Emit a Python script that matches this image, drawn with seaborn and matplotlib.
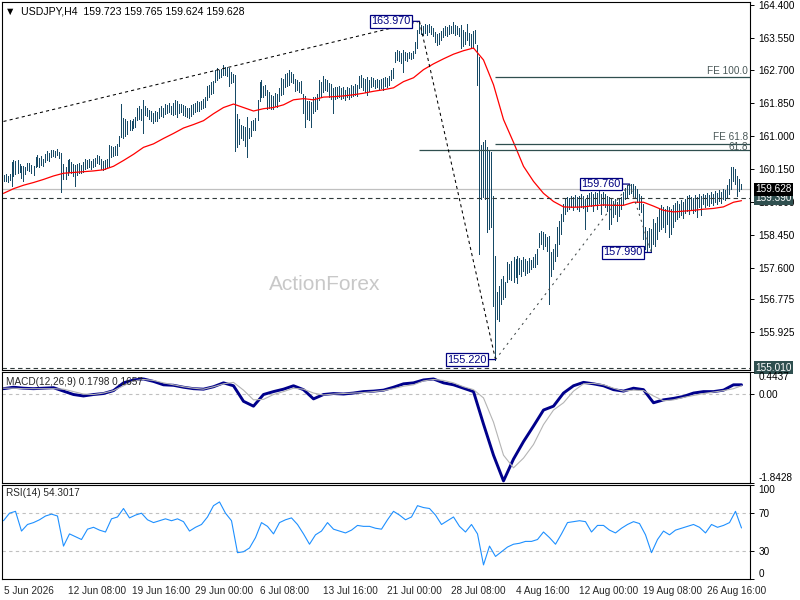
#!/usr/bin/env python3

import numpy as np
import seaborn as sns
import matplotlib
matplotlib.use("Agg")
import matplotlib.pyplot as plt
import matplotlib.transforms as mtransforms

# Chart data
header_text = "\u25bc  USDJPY,H4  159.723 159.765 159.624 159.628"

bar_high = [
    159.99, 160.01, 159.97, 160.02, 160.34, 160.37, 160.36, 160.39, 160.27, 160.24,
    160.22, 160.20, 160.31, 160.30, 160.25, 160.22, 160.45, 160.50, 160.44, 160.48,
    160.42, 160.55, 160.62, 160.57, 160.63, 160.65, 160.61, 160.66, 160.60, 160.56,
    160.27, 160.20, 160.37, 160.40, 160.33, 160.28, 160.25, 160.27, 160.30, 160.25,
    160.33, 160.40, 160.38, 160.42, 160.36, 160.40, 160.44, 160.50, 160.48, 160.40,
    160.36, 160.38, 160.42, 160.78, 160.74, 160.72, 160.75, 160.80, 161.00, 161.82,
    161.48, 161.44, 161.40, 161.43, 161.40, 161.45, 161.50, 161.72, 161.78, 161.70,
    161.94, 161.78, 161.72, 161.68, 161.64, 161.60, 161.66, 161.62, 161.74, 161.78,
    161.73, 161.82, 161.80, 161.86, 161.79, 161.85, 161.94, 161.90, 161.82, 161.84,
    161.80, 161.78, 161.74, 161.72, 161.80, 161.83, 161.86, 161.90, 161.88, 161.92,
    161.96, 162.00, 162.30, 162.33, 162.40, 162.42, 162.72, 162.77, 162.70, 162.74,
    162.85, 162.80, 162.78, 162.76, 162.65, 162.62, 162.59, 161.56, 161.45, 161.30,
    161.26, 161.24, 161.50, 161.22, 161.40, 161.43, 161.46, 161.94, 162.40, 162.46,
    162.30, 162.32, 162.20, 162.15, 162.07, 162.05, 162.12, 162.10, 162.25, 162.50,
    162.48, 162.60, 162.63, 162.72, 162.65, 162.60, 162.48, 162.45, 162.40, 162.42,
    162.10, 162.05, 161.90, 161.92, 161.88, 162.00, 162.02, 162.08, 162.46, 162.40,
    162.55, 162.49, 162.45, 162.38, 162.35, 162.25, 162.28, 162.26, 162.30, 162.24,
    162.26, 162.20, 162.28, 162.25, 162.33, 162.30, 162.35, 162.32, 162.55, 162.58,
    162.50, 162.48, 162.52, 162.46, 162.54, 162.51, 162.46, 162.48, 162.46, 162.48,
    162.51, 162.54, 162.51, 162.56, 162.72, 162.77, 163.18, 163.23, 163.21, 163.15,
    163.23, 163.18, 163.15, 163.18, 163.15, 163.21, 163.44, 163.75, 163.97, 163.88,
    163.85, 163.90, 163.88, 163.90, 163.85, 163.80, 163.70, 163.64, 163.67, 163.72,
    163.80, 163.85, 163.82, 163.88, 163.85, 163.95, 163.88, 163.85, 163.80, 163.88,
    163.75, 163.70, 163.90, 163.67, 163.64, 163.72, 163.75, 163.36, 163.05, 160.78,
    160.86, 160.91, 160.73, 160.65, 160.58, 159.44, 157.90, 156.97, 157.12, 157.30,
    157.38, 157.23, 157.74, 157.69, 157.77, 157.87, 157.82, 157.90, 157.85, 157.79,
    157.87, 157.82, 157.77, 157.85, 157.79, 157.87, 157.95, 158.08, 158.49, 158.54,
    158.51, 158.46, 158.39, 158.41, 158.00, 158.08, 158.21, 158.64, 158.80, 158.98,
    159.24, 159.37, 159.42, 159.39, 159.44, 159.42, 159.47, 159.42, 159.44, 159.50,
    159.44, 159.37, 159.47, 159.52, 159.55, 159.50, 159.55, 159.52, 159.57, 159.50,
    159.55, 159.50, 159.44, 159.42, 159.37, 159.31, 159.37, 159.29, 159.37, 159.42,
    159.55, 159.65, 159.73, 159.76, 159.75, 159.75, 159.70, 159.62, 159.50, 159.44,
    159.24, 158.64, 158.54, 158.62, 158.59, 158.85, 158.75, 158.90, 159.11, 159.21,
    159.16, 159.11, 159.19, 159.16, 159.11, 159.21, 159.26, 159.31, 159.24, 159.34,
    159.29, 159.37, 159.44, 159.47, 159.42, 159.39, 159.47, 159.42, 159.50, 159.44,
    159.50, 159.47, 159.52, 159.47, 159.55, 159.50, 159.57, 159.52, 159.60, 159.55,
    159.62, 159.60, 159.73, 159.88, 160.19, 160.19, 160.14, 159.98, 159.88, 159.77,
]

bar_low = [
    159.85, 159.84, 159.82, 159.86, 159.70, 159.98, 160.02, 160.05, 160.06, 159.92,
    159.84, 160.03, 160.12, 160.10, 160.05, 160.00, 160.21, 160.24, 160.20, 160.26,
    160.24, 160.33, 160.38, 160.36, 160.46, 160.49, 160.45, 160.50, 160.44, 159.55,
    159.89, 159.90, 159.99, 160.07, 160.05, 159.98, 159.70, 160.00, 160.05, 160.04,
    160.08, 160.15, 160.18, 160.20, 160.16, 160.20, 160.22, 160.30, 160.28, 160.14,
    160.12, 160.14, 160.18, 160.19, 160.45, 160.48, 160.52, 160.50, 160.74, 160.98,
    160.95, 161.00, 161.06, 161.16, 161.15, 161.20, 161.24, 161.42, 161.45, 161.43,
    161.08, 161.55, 161.52, 161.45, 161.40, 161.35, 161.40, 161.38, 161.48, 161.52,
    161.50, 161.58, 161.60, 161.62, 161.57, 161.55, 161.56, 161.50, 161.60, 161.62,
    161.55, 161.52, 161.50, 161.48, 161.52, 161.56, 161.62, 161.66, 161.64, 161.70,
    161.72, 161.76, 161.94, 162.00, 162.08, 162.12, 162.40, 162.44, 162.50, 162.52,
    162.59, 162.58, 162.55, 162.29, 162.38, 162.40, 160.62, 160.73, 160.80, 160.96,
    160.90, 160.75, 160.47, 160.96, 161.00, 161.16, 161.15, 161.42, 161.90, 162.00,
    162.02, 162.06, 161.70, 161.72, 161.69, 161.70, 161.77, 161.76, 161.90, 162.07,
    162.10, 162.28, 162.30, 162.33, 162.40, 162.38, 162.18, 162.20, 162.15, 162.12,
    161.60, 161.24, 161.45, 161.42, 161.24, 161.60, 161.65, 161.70, 161.94, 162.00,
    162.15, 162.20, 162.18, 162.00, 161.96, 161.60, 161.96, 161.98, 162.00, 161.95,
    161.98, 161.94, 162.00, 161.96, 162.02, 162.05, 162.07, 162.04, 162.25, 162.27,
    162.20, 162.15, 162.07, 162.16, 162.28, 162.30, 162.25, 162.28, 162.23, 162.25,
    162.20, 162.30, 162.28, 162.33, 162.46, 162.51, 162.92, 162.97, 162.95, 162.90,
    162.67, 162.97, 162.95, 163.03, 163.00, 163.03, 163.15, 163.28, 163.67, 163.64,
    163.62, 163.67, 163.62, 163.70, 163.64, 163.59, 163.44, 163.36, 163.39, 163.49,
    163.57, 163.62, 163.59, 163.64, 163.67, 163.67, 163.62, 163.64, 163.59, 163.28,
    163.33, 163.39, 163.49, 163.36, 163.28, 163.28, 163.41, 162.33, 157.95, 159.37,
    159.42, 159.37, 158.51, 158.59, 158.64, 156.61, 155.22, 156.27, 156.22, 156.66,
    156.79, 156.84, 157.23, 157.30, 157.28, 157.23, 157.36, 157.20, 157.43, 157.38,
    157.51, 157.41, 157.46, 157.48, 157.56, 157.61, 157.61, 157.69, 158.13, 158.21,
    158.08, 158.15, 158.03, 156.66, 157.38, 157.56, 157.77, 157.90, 158.21, 158.46,
    158.80, 158.98, 159.06, 159.11, 159.16, 159.08, 159.19, 159.11, 159.06, 159.16,
    159.13, 158.59, 159.06, 159.21, 159.19, 159.06, 159.24, 159.11, 159.26, 158.98,
    159.21, 159.16, 159.06, 158.59, 158.72, 158.90, 158.98, 158.80, 158.93, 159.11,
    159.24, 159.37, 159.42, 159.50, 159.52, 159.44, 159.42, 159.29, 159.11, 159.03,
    158.34, 158.08, 158.03, 158.13, 157.99, 158.21, 158.15, 158.34, 158.54, 158.59,
    158.64, 158.51, 158.72, 158.39, 158.46, 158.64, 158.80, 158.85, 158.90, 158.95,
    158.88, 159.00, 159.06, 158.98, 159.11, 159.00, 159.06, 158.90, 159.16, 158.95,
    159.24, 159.16, 159.21, 159.19, 159.26, 159.21, 159.29, 159.24, 159.31, 159.26,
    159.37, 159.34, 159.42, 159.50, 159.62, 159.83, 159.75, 159.44, 159.57, 159.62,
]

# red moving average, one reading every 5 bars plus the last bar
ma_values = [
    159.52, 159.64, 159.73, 159.80, 159.88, 159.97, 160.04, 160.06, 160.08, 160.10,
    160.13, 160.22, 160.37, 160.53, 160.71, 160.80, 160.94, 161.07, 161.21, 161.30,
    161.40, 161.58, 161.74, 161.83, 161.74, 161.65, 161.71, 161.74, 161.81, 161.94,
    161.97, 161.94, 162.01, 162.02, 162.04, 162.07, 162.11, 162.16, 162.20, 162.25,
    162.41, 162.51, 162.72, 162.87, 163.00, 163.12, 163.21, 163.28, 162.97, 162.33,
    161.43, 160.84, 160.22, 159.83, 159.52, 159.31, 159.17, 159.16, 159.17, 159.20,
    159.22, 159.21, 159.21, 159.29, 159.29, 159.19, 159.08, 159.04, 159.06, 159.08,
    159.11, 159.13, 159.17, 159.29, 159.33,
]

# MACD(12,26,9) main and signal, same sampling as the average
macd_main = [
    0.10, 0.13, 0.11, 0.10, 0.11, 0.12, 0.05, -0.02, -0.05, -0.02,
    0.00, 0.06, 0.22, 0.28, 0.30, 0.25, 0.18, 0.17, 0.13, 0.10,
    0.09, 0.14, 0.22, 0.16, -0.16, -0.26, -0.02, 0.04, 0.09, 0.16,
    0.08, -0.11, -0.02, 0.00, -0.01, 0.01, 0.04, 0.05, 0.07, 0.13,
    0.20, 0.22, 0.28, 0.30, 0.22, 0.18, 0.11, 0.04, -0.63, -1.27,
    -1.80, -1.35, -0.99, -0.67, -0.34, -0.26, 0.01, 0.16, 0.23, 0.20,
    0.16, 0.08, 0.05, 0.11, 0.08, -0.19, -0.13, -0.10, -0.06, 0.01,
    0.04, 0.04, 0.07, 0.18, 0.18,
]
macd_signal = [
    0.11, 0.11, 0.10, 0.10, 0.10, 0.10, 0.09, 0.04, -0.01, -0.02,
    0.01, 0.06, 0.16, 0.26, 0.29, 0.27, 0.22, 0.18, 0.14, 0.11,
    0.09, 0.14, 0.20, 0.23, 0.07, -0.13, -0.12, -0.02, 0.04, 0.11,
    0.09, 0.01, -0.03, -0.01, 0.00, 0.01, 0.02, 0.04, 0.06, 0.10,
    0.15, 0.18, 0.26, 0.29, 0.27, 0.22, 0.14, 0.08, -0.09, -0.59,
    -1.27, -1.53, -1.33, -1.05, -0.64, -0.34, -0.19, 0.05, 0.20, 0.21,
    0.18, 0.11, 0.05, 0.07, 0.06, -0.05, -0.15, -0.13, -0.08, -0.04,
    0.00, 0.03, 0.06, 0.10, 0.16,
]
macd_text = "MACD(12,26,9) 0.1798 0.1657"

# RSI(14), one reading every 3 bars
rsi_values = [
    62, 70, 72, 51, 58, 60, 63, 67, 69, 67,
    35, 48, 45, 42, 53, 55, 52, 50, 64, 66,
    75, 65, 68, 70, 63, 60, 62, 64, 62, 64,
    61, 51, 55, 58, 66, 78, 82, 70, 62, 28,
    29, 33, 44, 60, 56, 48, 60, 63, 65, 58,
    48, 37, 47, 51, 60, 53, 51, 49, 52, 57,
    56, 56, 54, 53, 63, 72, 68, 63, 66, 78,
    76, 75, 68, 58, 62, 66, 56, 50, 58, 48,
    15, 35, 24, 29, 34, 37, 38, 40, 40, 42,
    50, 44, 37, 48, 60, 61, 62, 61, 50, 57,
    57, 52, 49, 54, 58, 61, 59, 47, 28, 42,
    51, 47, 52, 54, 56, 58, 55, 49, 58, 55,
    57, 60, 72, 54.3017,
]

# swing points used by the trend lines and their labels
swing_bars = [0, 208, 246, 313, 324]
swing_prices = [161.38, 163.97, 155.22, 159.76, 157.99]
swing_labels = [None, "163.970", "155.220", "159.760", "157.990"]

fib_names = ["FE 100.0", "FE 61.8", "61.8"]
fib_levels = [162.53, 160.80, 160.63]
fib_start_bars = [246, 246, 208]

last_price = 159.628
marked_levels = [159.390, 155.010]

price_ticks = [164.400, 163.550, 162.700, 161.850, 161.000, 160.150,
               159.300, 158.450, 157.600, 156.775, 155.925]
macd_ticks = [0.4437, 0.0, -1.8428]
macd_tick_labels = ["0.4437", "0.00", "-1.8428"]
rsi_ticks = [100, 70, 30, 0]

date_labels = [
    "5 Jun 2026", "12 Jun 08:00", "19 Jun 16:00", "29 Jun 00:00",
    "6 Jul 08:00", "13 Jul 16:00", "21 Jul 00:00", "28 Jul 08:00",
    "4 Aug 16:00", "12 Aug 00:00", "19 Aug 08:00", "26 Aug 16:00",
]
bars_per_label = 32

W, H = 800, 600
BAR_COLOR = "#174a66"
SLATE = "#2f4f4f"
NAVY = "#000080"
FS = 7.2


def px_rect(left, top, right, bottom):
    """
    Axes rectangle from pixel edges of the 800x600 canvas.
    """
    return [left / W, 1 - bottom / H, (right - left) / W, (bottom - top) / H]


def style_panel(ax, n_bars):
    ax.set_xlim(-0.75, n_bars + 3.25)
    ax.set_xticks([])
    ax.yaxis.tick_right()
    ax.tick_params(axis="y", which="both", direction="out", length=3,
                   width=0.7, pad=3, labelsize=FS, colors="black")
    for side in ["left", "right", "top", "bottom"]:
        ax.spines[side].set_visible(True)
        ax.spines[side].set_color("black")
        ax.spines[side].set_linewidth(0.8)
    ax.grid(False)


def plot_price(ax, bars):
    n = len(bar_high)
    ax.vlines(bars, bar_low, bar_high, color=BAR_COLOR, linewidth=0.68,
              antialiased=False, snap=True)

    sample = np.append(np.arange(0, n, 5), n - 1)
    sns.lineplot(x=sample, y=ma_values, ax=ax, color="#ff0000", linewidth=0.9)

    ax.axhline(last_price, color="#c0c0c0", linewidth=0.9, zorder=1)
    for level in marked_levels:
        ax.axhline(level, color="#303a3a", linewidth=0.8, linestyle=(0, (4, 3)))

    right = n + 3.25
    nudges = [1, 2, -2]
    for name, level, start, dy in zip(fib_names, fib_levels, fib_start_bars, nudges):
        ax.hlines(level, start, right, color=SLATE, linewidth=0.9)
        ax.annotate(name, xy=(right, level), xytext=(-2, dy),
                    textcoords="offset pixels", ha="right", va="bottom",
                    fontsize=FS, color="#4a5858")

    # zig-zag trend lines
    styles = [("black", (0, (3, 3))), ("black", (0, (3, 3))),
              ("#404848", (0, (2, 4))), ("#404848", (0, (2, 4)))]
    for k, (color, ls) in enumerate(styles):
        ax.plot(swing_bars[k:k + 2], swing_prices[k:k + 2], color=color,
                linewidth=0.75, linestyle=ls)

    for b, p, label in zip(swing_bars, swing_prices, swing_labels):
        if label is None:
            continue
        ax.annotate(label, xy=(b, p), xytext=(-9, 0), textcoords="offset pixels",
                    ha="right", va="center", fontsize=FS + 0.6, color=NAVY,
                    bbox=dict(boxstyle="square,pad=0.12", fc="white", ec=NAVY, lw=0.9),
                    arrowprops=dict(arrowstyle="-", color=NAVY, lw=0.9,
                                    shrinkA=0, shrinkB=0),
                    zorder=6)

    ax.set_ylim(154.95, 164.47)
    ax.set_yticks(price_ticks)
    ax.set_yticklabels([f"{t:.3f}" for t in price_ticks])

    trans = mtransforms.blended_transform_factory(ax.transAxes, ax.transData)
    tags = [(marked_levels[1], SLATE), (marked_levels[0], SLATE), (last_price, "black")]
    for value, bg in tags:
        ax.text(1.007, value, f"{value:.3f}", transform=trans, ha="left",
                va="center", fontsize=FS, color="white", clip_on=False, zorder=7,
                bbox=dict(boxstyle="square,pad=0.15", fc=bg, ec="none"))

    ax.text(0.004, 0.988, header_text, transform=ax.transAxes, ha="left",
            va="top", fontsize=FS + 0.4, color="black")
    ax.text(0.432, 0.232, "ActionForex", transform=ax.transAxes, ha="center",
            va="center", fontsize=15, color="#c8c8c8")


def plot_macd(ax):
    n = len(bar_high)
    sample = np.append(np.arange(0, n, 5), n - 1)
    ax.axhline(0, color="#c0c0c0", linewidth=0.8, linestyle=(0, (3, 3)))
    sns.lineplot(x=sample, y=macd_main, ax=ax, color="#00008b", linewidth=2.1)
    sns.lineplot(x=sample, y=macd_signal, ax=ax, color="#b4b4b4", linewidth=0.8)
    ax.set_ylim(macd_ticks[-1], macd_ticks[0])
    ax.set_yticks(macd_ticks)
    ax.set_yticklabels(macd_tick_labels)
    labels = ax.get_yticklabels()
    labels[0].set_va("top")
    labels[-1].set_va("bottom")
    ax.text(0.005, 0.955, macd_text, transform=ax.transAxes, ha="left",
            va="top", fontsize=FS)


def plot_rsi(ax):
    x = np.arange(len(rsi_values)) * 3
    for level in [70, 30]:
        ax.axhline(level, color="#c0c0c0", linewidth=0.8, linestyle=(0, (3, 3)))
    sns.lineplot(x=x, y=rsi_values, ax=ax, color="#1e90ff", linewidth=0.8)
    ax.set_ylim(0, 100)
    ax.set_yticks(rsi_ticks)
    ax.set_yticklabels([str(t) for t in rsi_ticks])
    labels = ax.get_yticklabels()
    labels[0].set_va("top")
    labels[-1].set_va("bottom")
    ax.text(0.005, 0.915, f"RSI(14) {rsi_values[-1]:.4f}", transform=ax.transAxes,
            ha="left", va="center", fontsize=FS)

    ticks = np.arange(len(date_labels)) * bars_per_label
    ax.set_xticks(ticks)
    ax.set_xticklabels(date_labels, ha="left", fontsize=FS)
    ax.tick_params(axis="x", direction="out", length=3, width=0.7, pad=2)


def main():
    sns.set_style("white")
    plt.rcParams["font.family"] = ["Liberation Sans", "DejaVu Sans"]

    fig = plt.figure(figsize=(W / 100, H / 100), dpi=100)
    fig.patch.set_facecolor("white")
    ax_price = fig.add_axes(px_rect(2, 2, 750, 370))
    ax_macd = fig.add_axes(px_rect(2, 372, 750, 483))
    ax_rsi = fig.add_axes(px_rect(2, 485, 750, 579))

    n = len(bar_high)
    bars = np.arange(n)
    for ax in [ax_price, ax_macd, ax_rsi]:
        style_panel(ax, n)

    plot_price(ax_price, bars)
    plot_macd(ax_macd)
    plot_rsi(ax_rsi)

    for ax in [ax_price, ax_macd, ax_rsi]:
        ax.set_xlabel("")
        ax.set_ylabel("")

    fig.savefig("out.png", dpi=100)


if __name__ == "__main__":
    main()
